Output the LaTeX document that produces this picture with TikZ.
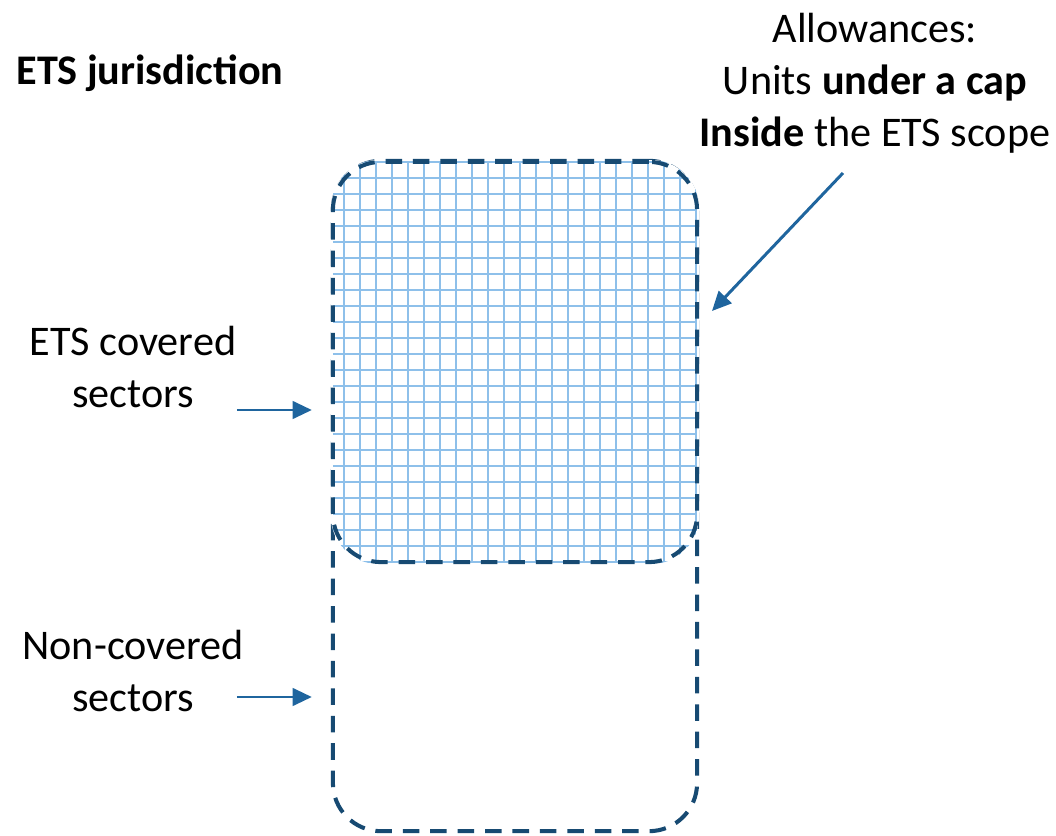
\documentclass[tikz,border=0pt]{standalone}
\usepackage{fontspec}
\setmainfont{Carlito}
\usetikzlibrary{arrows.meta}
\usetikzlibrary{positioning}

\definecolor{scopenavy}{HTML}{174A72}
\definecolor{pointblue}{HTML}{1F659E}
\definecolor{gridblue}{HTML}{8EC0EA}

\begin{document}
\begin{tikzpicture}[x=0.01cm, y=-0.01cm, font=\fontsize{12}{14.8}\selectfont, >={Triangle[length=5.5pt,width=5pt]}]
            \tikzstyle{scope box}=[draw=scopenavy, line width=1.15pt, dash pattern=on 4.7pt off 3.1pt, rounded corners=13.7pt, inner sep=0pt, minimum width=3.64cm]
            \tikzstyle{grid line}=[draw=gridblue, line width=0.55pt]
            \tikzstyle{pointer}=[->, draw=pointblue, line width=0.85pt]

            \useasboundingbox (0,0) rectangle (1056,836);

            % outer scope and covered part
            \node[scope box, minimum height=6.70cm] (jurisdiction) at (515,496) {};
            \node[scope box, draw=none, minimum height=4.00cm] (covered) at (515,362) {};

            \begin{scope}
              \clip[rounded corners=13.7pt] (covered.north west) rectangle (covered.south east);
              \fill[white] (covered.north west) rectangle (covered.south east);
              \foreach \gx in {344,360,...,696} \draw[grid line] (\gx,162) -- (\gx,562);
              \foreach \gy in {162,178,...,562} \draw[grid line] (333,\gy) -- (697,\gy);
            \end{scope}
            \node[scope box, minimum height=4.00cm] at (covered) {};

            % labels
            \node[anchor=west, font=\fontsize{12}{14.8}\selectfont\bfseries] (title) at (4,73) {ETS jurisdiction};
            \node[align=center] (allowances) at (875,83) {Allowances:\\Units \textbf{under a cap}\\\textbf{Inside} the ETS scope};
            \node[align=center] (coveredlabel) at (133,367) {ETS covered\\sectors};
            \node[align=center] (noncoveredlabel) at (133,671) {Non-covered\\sectors};

            % arrows
            \coordinate (p1) at (237,410);
            \coordinate (p2) at (237,697);
            \coordinate (p3) at (843,173);
            \coordinate (p3tip) at (712,311);
            \draw[pointer, shorten >=0.19cm] (p1) -- (covered.west |- p1);
            \draw[pointer, shorten >=0.19cm] (p2) -- (jurisdiction.west |- p2);
            \draw[pointer] (p3) -- (p3tip);
          \end{tikzpicture}
\end{document}
